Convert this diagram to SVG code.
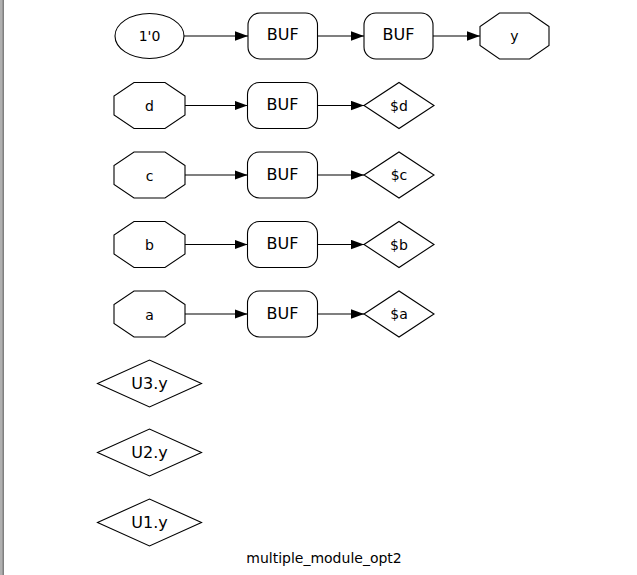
<svg xmlns="http://www.w3.org/2000/svg" width="637" height="575" viewBox="0 0 637 575">
<style>
.shape{fill:none;stroke:#000;stroke-width:1.1}
.edge{fill:none;stroke:#000;stroke-width:1.1}
.lbl{font-family:"DejaVu Sans",sans-serif;font-size:14px;text-anchor:middle;fill:#000}
.big{font-family:"DejaVu Sans",sans-serif;font-size:16px;text-anchor:middle;fill:#000}
</style>
<defs>
<marker id="arr" markerUnits="userSpaceOnUse" markerWidth="14" markerHeight="10" refX="13" refY="4.7" orient="auto">
<polygon points="0,0 13,4.7 0,9.4" fill="#000"/>
</marker>
</defs>
<rect x="0" y="0" width="637" height="575" fill="#fff"/>
<rect x="0" y="0" width="4" height="575" fill="#b0b0b0"/>
<rect x="2.5" y="0" width="1.5" height="575" fill="#808080"/>

<g id="edges">
<line class="edge" x1="184" y1="36" x2="248" y2="36" marker-end="url(#arr)"/>
<line class="edge" x1="317.5" y1="36" x2="364" y2="36" marker-end="url(#arr)"/>
<line class="edge" x1="433" y1="36" x2="480" y2="36" marker-end="url(#arr)"/>
<line class="edge" x1="185" y1="105.5" x2="247.5" y2="105.5" marker-end="url(#arr)"/>
<line class="edge" x1="317.5" y1="105.5" x2="364" y2="105.5" marker-end="url(#arr)"/>
<line class="edge" x1="185" y1="175" x2="247.5" y2="175" marker-end="url(#arr)"/>
<line class="edge" x1="317.5" y1="175" x2="364" y2="175" marker-end="url(#arr)"/>
<line class="edge" x1="185" y1="244.5" x2="247.5" y2="244.5" marker-end="url(#arr)"/>
<line class="edge" x1="317.5" y1="244.5" x2="364" y2="244.5" marker-end="url(#arr)"/>
<line class="edge" x1="185" y1="314" x2="247.5" y2="314" marker-end="url(#arr)"/>
<line class="edge" x1="317.5" y1="314" x2="364" y2="314" marker-end="url(#arr)"/>
</g>

<g id="const0">
<ellipse class="shape" cx="149.5" cy="36" rx="34.5" ry="22.5"/>
<text class="lbl" x="149.5" y="41">1'0</text>
</g>
<g id="buf_y1">
<rect class="shape" x="248" y="13" width="69.5" height="46" rx="12"/>
<text class="big" x="282.75" y="40">BUF</text>
</g>
<g id="buf_y2">
<rect class="shape" x="364" y="13" width="69" height="46" rx="12"/>
<text class="big" x="398.5" y="40">BUF</text>
</g>
<g id="out_y">
<polygon class="shape" points="549,26.5 529.5,13 499.5,13 480,26.5 480,45.5 499.5,59 529.5,59 549,45.5"/>
<text class="lbl" x="514.5" y="41">y</text>
</g>

<g id="in_d">
<polygon class="shape" points="185,96 165,82.5 134,82.5 114,96 114,115 134,128.5 165,128.5 185,115"/>
<text class="lbl" x="149.5" y="111">d</text>
</g>
<g id="buf_d">
<rect class="shape" x="247.5" y="82.5" width="70" height="46" rx="12"/>
<text class="big" x="282.5" y="110">BUF</text>
</g>
<g id="net_d">
<polygon class="shape" points="364,105.5 399,82.5 434,105.5 399,128.5"/>
<text class="lbl" x="399" y="110.5">$d</text>
</g>

<g id="in_c">
<polygon class="shape" points="185,165.5 165,152 134,152 114,165.5 114,184.5 134,198 165,198 185,184.5"/>
<text class="lbl" x="149.5" y="180.5">c</text>
</g>
<g id="buf_c">
<rect class="shape" x="247.5" y="152" width="70" height="46" rx="12"/>
<text class="big" x="282.5" y="179.5">BUF</text>
</g>
<g id="net_c">
<polygon class="shape" points="364,175 399,152 434,175 399,198"/>
<text class="lbl" x="399" y="180">$c</text>
</g>

<g id="in_b">
<polygon class="shape" points="185,235 165,221.5 134,221.5 114,235 114,254 134,267.5 165,267.5 185,254"/>
<text class="lbl" x="149.5" y="250">b</text>
</g>
<g id="buf_b">
<rect class="shape" x="247.5" y="221.5" width="70" height="46" rx="12"/>
<text class="big" x="282.5" y="249">BUF</text>
</g>
<g id="net_b">
<polygon class="shape" points="364,244.5 399,221.5 434,244.5 399,267.5"/>
<text class="lbl" x="399" y="249.5">$b</text>
</g>

<g id="in_a">
<polygon class="shape" points="185,304.5 165,291 134,291 114,304.5 114,323.5 134,337 165,337 185,323.5"/>
<text class="lbl" x="149.5" y="319.5">a</text>
</g>
<g id="buf_a">
<rect class="shape" x="247.5" y="291" width="70" height="46" rx="12"/>
<text class="big" x="282.5" y="318.5">BUF</text>
</g>
<g id="net_a">
<polygon class="shape" points="364,314 399,291 434,314 399,337"/>
<text class="lbl" x="399" y="319">$a</text>
</g>

<g id="U3y">
<polygon class="shape" points="97.5,383.5 149.5,360 201.5,383.5 149.5,407"/>
<text class="big" x="149.5" y="389">U3.y</text>
</g>
<g id="U2y">
<polygon class="shape" points="97.5,452.5 149.5,429 201.5,452.5 149.5,476"/>
<text class="big" x="149.5" y="458">U2.y</text>
</g>
<g id="U1y">
<polygon class="shape" points="97.5,522.5 149.5,499 201.5,522.5 149.5,546"/>
<text class="big" x="149.5" y="528">U1.y</text>
</g>

<text id="title" class="lbl" x="324" y="563">multiple_module_opt2</text>
</svg>
